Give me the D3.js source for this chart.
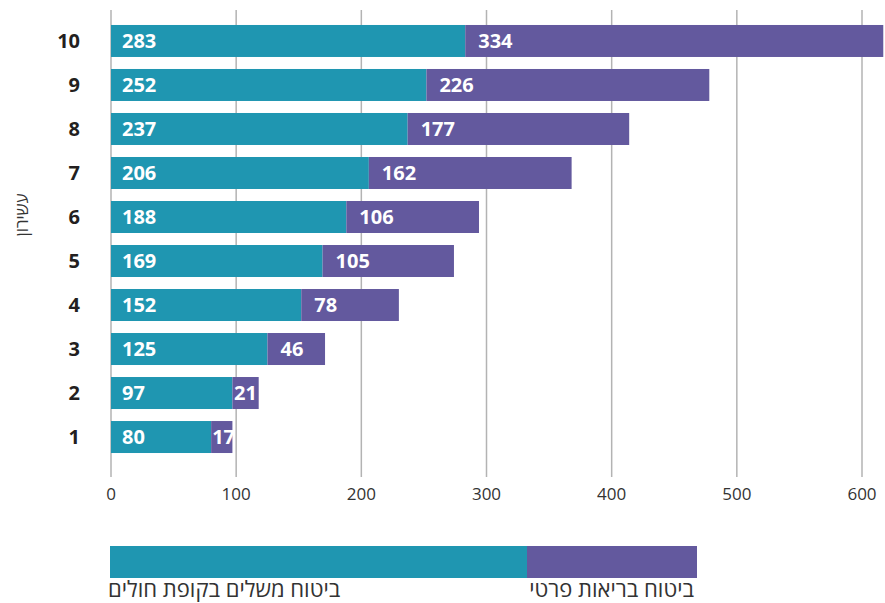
<!DOCTYPE html>
<html>
  <head>
    <meta charset="utf-8">
    <title>עשירון - ביטוח בריאות</title>
    <script src="https://d3js.org/d3.v7.min.js"></script>
    <style>
      body { margin: 0; background: #fff; }
      svg { font-family: "Open Sans", "DejaVu Sans", sans-serif; }
      .cat-label { font-size: 20px; font-weight: bold; fill: #231f20; }
      .val-label { font-size: 20px; font-weight: bold; fill: #fff; }
      .tick-label { font-size: 17px; fill: #333; }
      .legend-label { font-size: 22px; fill: #333; }
    </style>
  </head>
  <body>
    <div id="chart"></div>
    <script>
      // Data
      const deciles = ["10", "9", "8", "7", "6", "5", "4", "3", "2", "1"];
      const kupa = [283, 252, 237, 206, 188, 169, 152, 125, 97, 80];     // ביטוח משלים בקופת חולים
      const privateIns = [334, 226, 177, 162, 106, 105, 78, 46, 21, 17]; // ביטוח בריאות פרטי
      const xTicks = [0, 100, 200, 300, 400, 500, 600];
      const seriesNames = ["ביטוח משלים בקופת חולים", "ביטוח בריאות פרטי"];
      const colors = ["#1f96b1", "#63599e"];

      const W = 885, H = 603;

      const svg = d3.select("#chart").append("svg")
        .attr("width", W)
        .attr("height", H);

      // Scales
      const x = d3.scaleLinear().domain([0, 600]).range([111, 862]);
      const y = d3.scaleBand().domain(deciles).range([19, 459]).paddingInner(0.273).paddingOuter(0.136);

      // Gridlines
      svg.append("g")
        .selectAll("line")
        .data(xTicks)
        .join("line")
        .attr("x1", d => x(d)).attr("x2", d => x(d))
        .attr("y1", 10).attr("y2", 477)
        .attr("stroke", "#b3b3b3")
        .attr("stroke-width", 1.5);

      // Tick labels
      svg.append("g")
        .selectAll("text")
        .data(xTicks)
        .join("text")
        .attr("class", "tick-label")
        .attr("x", d => x(d))
        .attr("y", 500)
        .attr("text-anchor", "middle")
        .text(d => d);

      // Stacked bars
      const rows = deciles.map((d, i) => ({ cat: d, vals: [kupa[i], privateIns[i]] }));

      const rowG = svg.append("g")
        .selectAll("g")
        .data(rows)
        .join("g");

      rowG.each(function (r) {
        const g = d3.select(this);
        let start = 0;
        r.vals.forEach((v, k) => {
          const segW = x(start + v) - x(start);
          g.append("rect")
            .attr("x", x(start))
            .attr("y", y(r.cat))
            .attr("width", segW)
            .attr("height", y.bandwidth())
            .attr("fill", colors[k]);
          const t = g.append("text")
            .attr("class", "val-label")
            .attr("y", y(r.cat) + y.bandwidth() / 2)
            .attr("dy", "0.36em")
            .text(v);
          // small segments: squeeze the label in
          const tw = t.node().getComputedTextLength();
          const pad = k === 0 ? 11 : Math.max(1, Math.min(13, (segW - tw) / 2));
          t.attr("x", x(start) + pad);
          start += v;
        });
      });

      // Category labels
      svg.append("g")
        .selectAll("text")
        .data(deciles)
        .join("text")
        .attr("class", "cat-label")
        .attr("x", 80)
        .attr("y", d => y(d) + y.bandwidth() / 2)
        .attr("dy", "0.36em")
        .attr("text-anchor", "end")
        .text(d => d);

      // Y-axis title
      svg.append("text")
        .attr("transform", "translate(22, 215) rotate(-90)")
        .attr("text-anchor", "middle")
        .attr("dy", "0.35em")
        .style("font-size", "17px")
        .style("fill", "#333")
        .text("עשירון");

      // Legend
      const legendVals = [417, 170];
      const lx = d3.scaleLinear().domain([0, d3.sum(legendVals)]).range([110, 697]);
      let acc = 0;
      legendVals.forEach((v, k) => {
        svg.append("rect")
          .attr("x", lx(acc))
          .attr("y", 546)
          .attr("width", lx(acc + v) - lx(acc))
          .attr("height", 32)
          .attr("fill", colors[k]);
        acc += v;
      });
      svg.append("text")
        .attr("class", "legend-label")
        .attr("x", lx(0) - 2)
        .attr("y", 597)
        .attr("text-anchor", "start")
        .text(seriesNames[0]);
      svg.append("text")
        .attr("class", "legend-label")
        .attr("x", lx(d3.sum(legendVals)) - 3)
        .attr("y", 597)
        .attr("text-anchor", "end")
        .text(seriesNames[1]);
    </script>
  </body>
</html>
